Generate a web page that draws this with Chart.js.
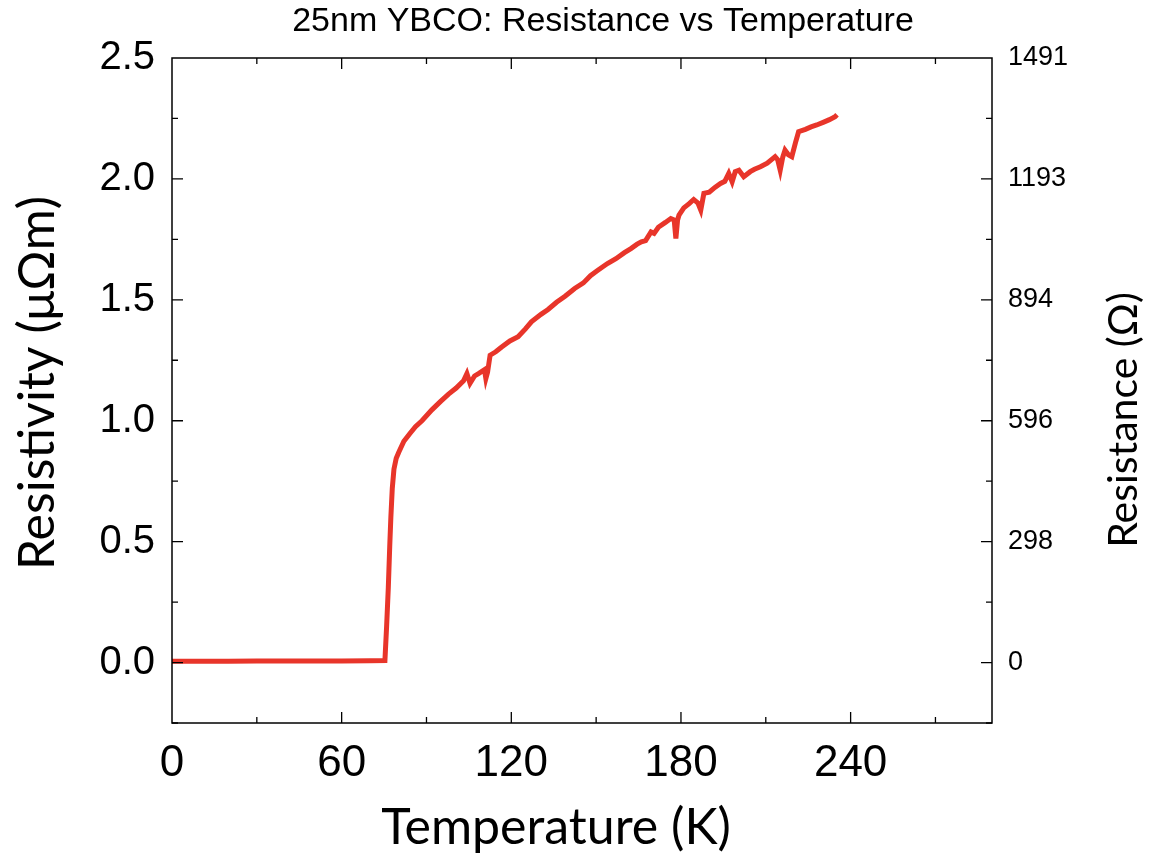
<!DOCTYPE html>
<html>
<head>
<meta charset="utf-8">
<script src="https://cdn.jsdelivr.net/npm/chart.js@4"></script>
<style>
	html, body { margin: 0; padding: 0; background: #fff; }
	#wrap { width: 1156px; height: 867px; }
</style>
</head>
<body>
<div id="wrap"><canvas id="rt-chart" width="1156" height="867"></canvas></div>
<script>
// temperature (K) and resistivity (µΩm)
var temperature = [0, 10, 20, 30, 40, 50, 60, 70, 75.3, 75.9, 76.5, 77.0, 77.4, 77.9, 78.5, 79.3, 80.2, 82.0, 84.0, 86.1, 88.4, 91.9, 95.0, 97.8, 100.5, 103.1, 104.3, 105.4, 107.0, 108.4, 110.5, 111.0, 111.6, 112.5, 114.5, 116.6, 119.5, 122.4, 125.0, 127.1, 130.5, 133.0, 136.0, 139.0, 142.4, 145.5, 148.0, 150.6, 154.0, 157.0, 160.0, 162.3, 164.5, 166.0, 167.5, 169.4, 170.5, 172.0, 174.5, 176.4, 177.6, 178.2, 178.8, 179.3, 181.0, 182.9, 184.5, 186.0, 187.0, 188.1, 190.0, 192.0, 194.0, 195.5, 196.9, 198.1, 199.2, 200.5, 202.2, 204.5, 206.0, 208.1, 210.5, 213.3, 214.2, 215.1, 216.0, 216.8, 218.0, 219.2, 220.5, 221.6, 224.0, 226.0, 228.0, 230.5, 232.5, 234.5, 235.2];
var resistivity = [0.005, 0.005, 0.005, 0.006, 0.006, 0.006, 0.006, 0.007, 0.008, 0.15, 0.31, 0.48, 0.6, 0.72, 0.8, 0.845, 0.87, 0.915, 0.945, 0.975, 1.0, 1.045, 1.08, 1.11, 1.135, 1.165, 1.195, 1.155, 1.185, 1.195, 1.211, 1.174, 1.2, 1.271, 1.285, 1.305, 1.33, 1.347, 1.38, 1.409, 1.44, 1.46, 1.49, 1.515, 1.547, 1.57, 1.6, 1.622, 1.65, 1.67, 1.695, 1.712, 1.73, 1.74, 1.745, 1.781, 1.775, 1.8, 1.82, 1.836, 1.83, 1.754, 1.83, 1.85, 1.88, 1.898, 1.915, 1.9, 1.871, 1.94, 1.945, 1.965, 1.981, 1.99, 2.023, 1.988, 2.03, 2.036, 2.009, 2.03, 2.04, 2.05, 2.065, 2.092, 2.08, 2.036, 2.09, 2.119, 2.1, 2.092, 2.15, 2.195, 2.205, 2.215, 2.223, 2.235, 2.245, 2.257, 2.265];

var xTicks = [0, 60, 120, 180, 240];
var leftTicks = [0.0, 0.5, 1.0, 1.5, 2.0, 2.5];
var rightTickLabels = ['0', '298', '596', '894', '1193', '1491'];

var points = [];
for (var i = 0; i < temperature.length; i++) {
	points.push({ x: temperature[i], y: resistivity[i] });
}

// frame ticks pointing inward + axis titles
var frameTicks = {
	id: 'frameTicks',
	afterDraw: function (chart) {
		var ctx = chart.ctx;
		var a = chart.chartArea;
		var xs = chart.scales.x, ys = chart.scales.y;
		ctx.save();
		ctx.strokeStyle = '#000';
		ctx.lineWidth = 1.5;
		ctx.strokeRect(a.left, a.top, a.right - a.left, a.bottom - a.top);
		ctx.lineWidth = 1.3;
		ctx.beginPath();
		for (var v = 30; v < 290; v += 30) {
			var px = xs.getPixelForValue(v);
			var len = (v % 60 === 0) ? 11 : 6;
			ctx.moveTo(px, a.bottom); ctx.lineTo(px, a.bottom - len);
			ctx.moveTo(px, a.top); ctx.lineTo(px, a.top + len);
		}
		for (var k = 0; k < 11; k++) {
			var val = -0.25 + k * 0.25;
			var py = ys.getPixelForValue(val);
			var l2 = (k % 2 === 1) ? 11 : 6;
			ctx.moveTo(a.left, py); ctx.lineTo(a.left + l2, py);
			ctx.moveTo(a.right, py); ctx.lineTo(a.right - l2, py);
		}
		ctx.stroke();

		ctx.fillStyle = '#000';
		ctx.textAlign = 'center';
		ctx.textBaseline = 'middle';
		ctx.font = '34px "Liberation Sans", Arial, sans-serif';
		ctx.fillText('25nm YBCO: Resistance vs Temperature', 603, 22);

		ctx.font = '50px Lato, "Open Sans", sans-serif';
		ctx.fillText('Temperature (K)', 556, 828);

		ctx.save();
		ctx.translate(38, 383);
		ctx.rotate(-Math.PI / 2);
		ctx.fillText('Resistivity (μΩm)', 0, 0);
		ctx.restore();

		ctx.font = '41px Lato, "Open Sans", sans-serif';
		ctx.save();
		ctx.translate(1124, 420);
		ctx.rotate(-Math.PI / 2);
		ctx.fillText('Resistance (Ω)', 0, 0);
		ctx.restore();
		ctx.restore();
	}
};

var rtChart = new Chart(document.getElementById('rt-chart'), {
	type: 'line',
	data: {
		datasets: [
			{
				label: 'Resistivity',
				data: points,
				borderColor: '#e8352a',
				borderWidth: 5,
				pointRadius: 0,
				fill: false,
				tension: 0,
				yAxisID: 'y'
			}
		]
	},
	options: {
		responsive: false,
		animation: false,
		layout: { padding: { top: 58, left: 0, right: 0, bottom: 0 } },
		plugins: {
			legend: { display: false },
			title: { display: false },
			tooltip: { enabled: false }
		},
		scales: {
			x: {
				type: 'linear',
				min: 0,
				max: 290,
				afterFit: function (s) { s.height = 144; },
				afterBuildTicks: function (s) { s.ticks = xTicks.map(function (v) { return { value: v }; }); },
				grid: { display: false },
				border: { display: false },
				ticks: {
					padding: 6,
					color: '#000',
					maxRotation: 0,
					font: { family: '"Liberation Sans Narrow", "Liberation Sans", Arial, sans-serif', size: 44 }
				}
			},
			y: {
				type: 'linear',
				position: 'left',
				min: -0.25,
				max: 2.5,
				afterFit: function (s) { s.width = 172; },
				afterBuildTicks: function (s) { s.ticks = leftTicks.map(function (v) { return { value: v }; }); },
				grid: { display: false },
				border: { display: false },
				ticks: {
					padding: 9,
					color: '#000',
					font: { family: '"Liberation Sans", Arial, sans-serif', size: 40 },
					callback: function (v) { return v.toFixed(1); }
				}
			},
			y2: {
				type: 'linear',
				position: 'right',
				min: -0.25,
				max: 2.5,
				afterFit: function (s) { s.width = 164; },
				afterBuildTicks: function (s) { s.ticks = leftTicks.map(function (v) { return { value: v }; }); },
				grid: { display: false },
				border: { display: false },
				ticks: {
					padding: 8,
					color: '#000',
					font: { family: '"Liberation Sans", Arial, sans-serif', size: 27 },
					callback: function (v, idx) { return rightTickLabels[idx]; }
				}
			}
		}
	},
	plugins: [frameTicks]
});
</script>
</body>
</html>
